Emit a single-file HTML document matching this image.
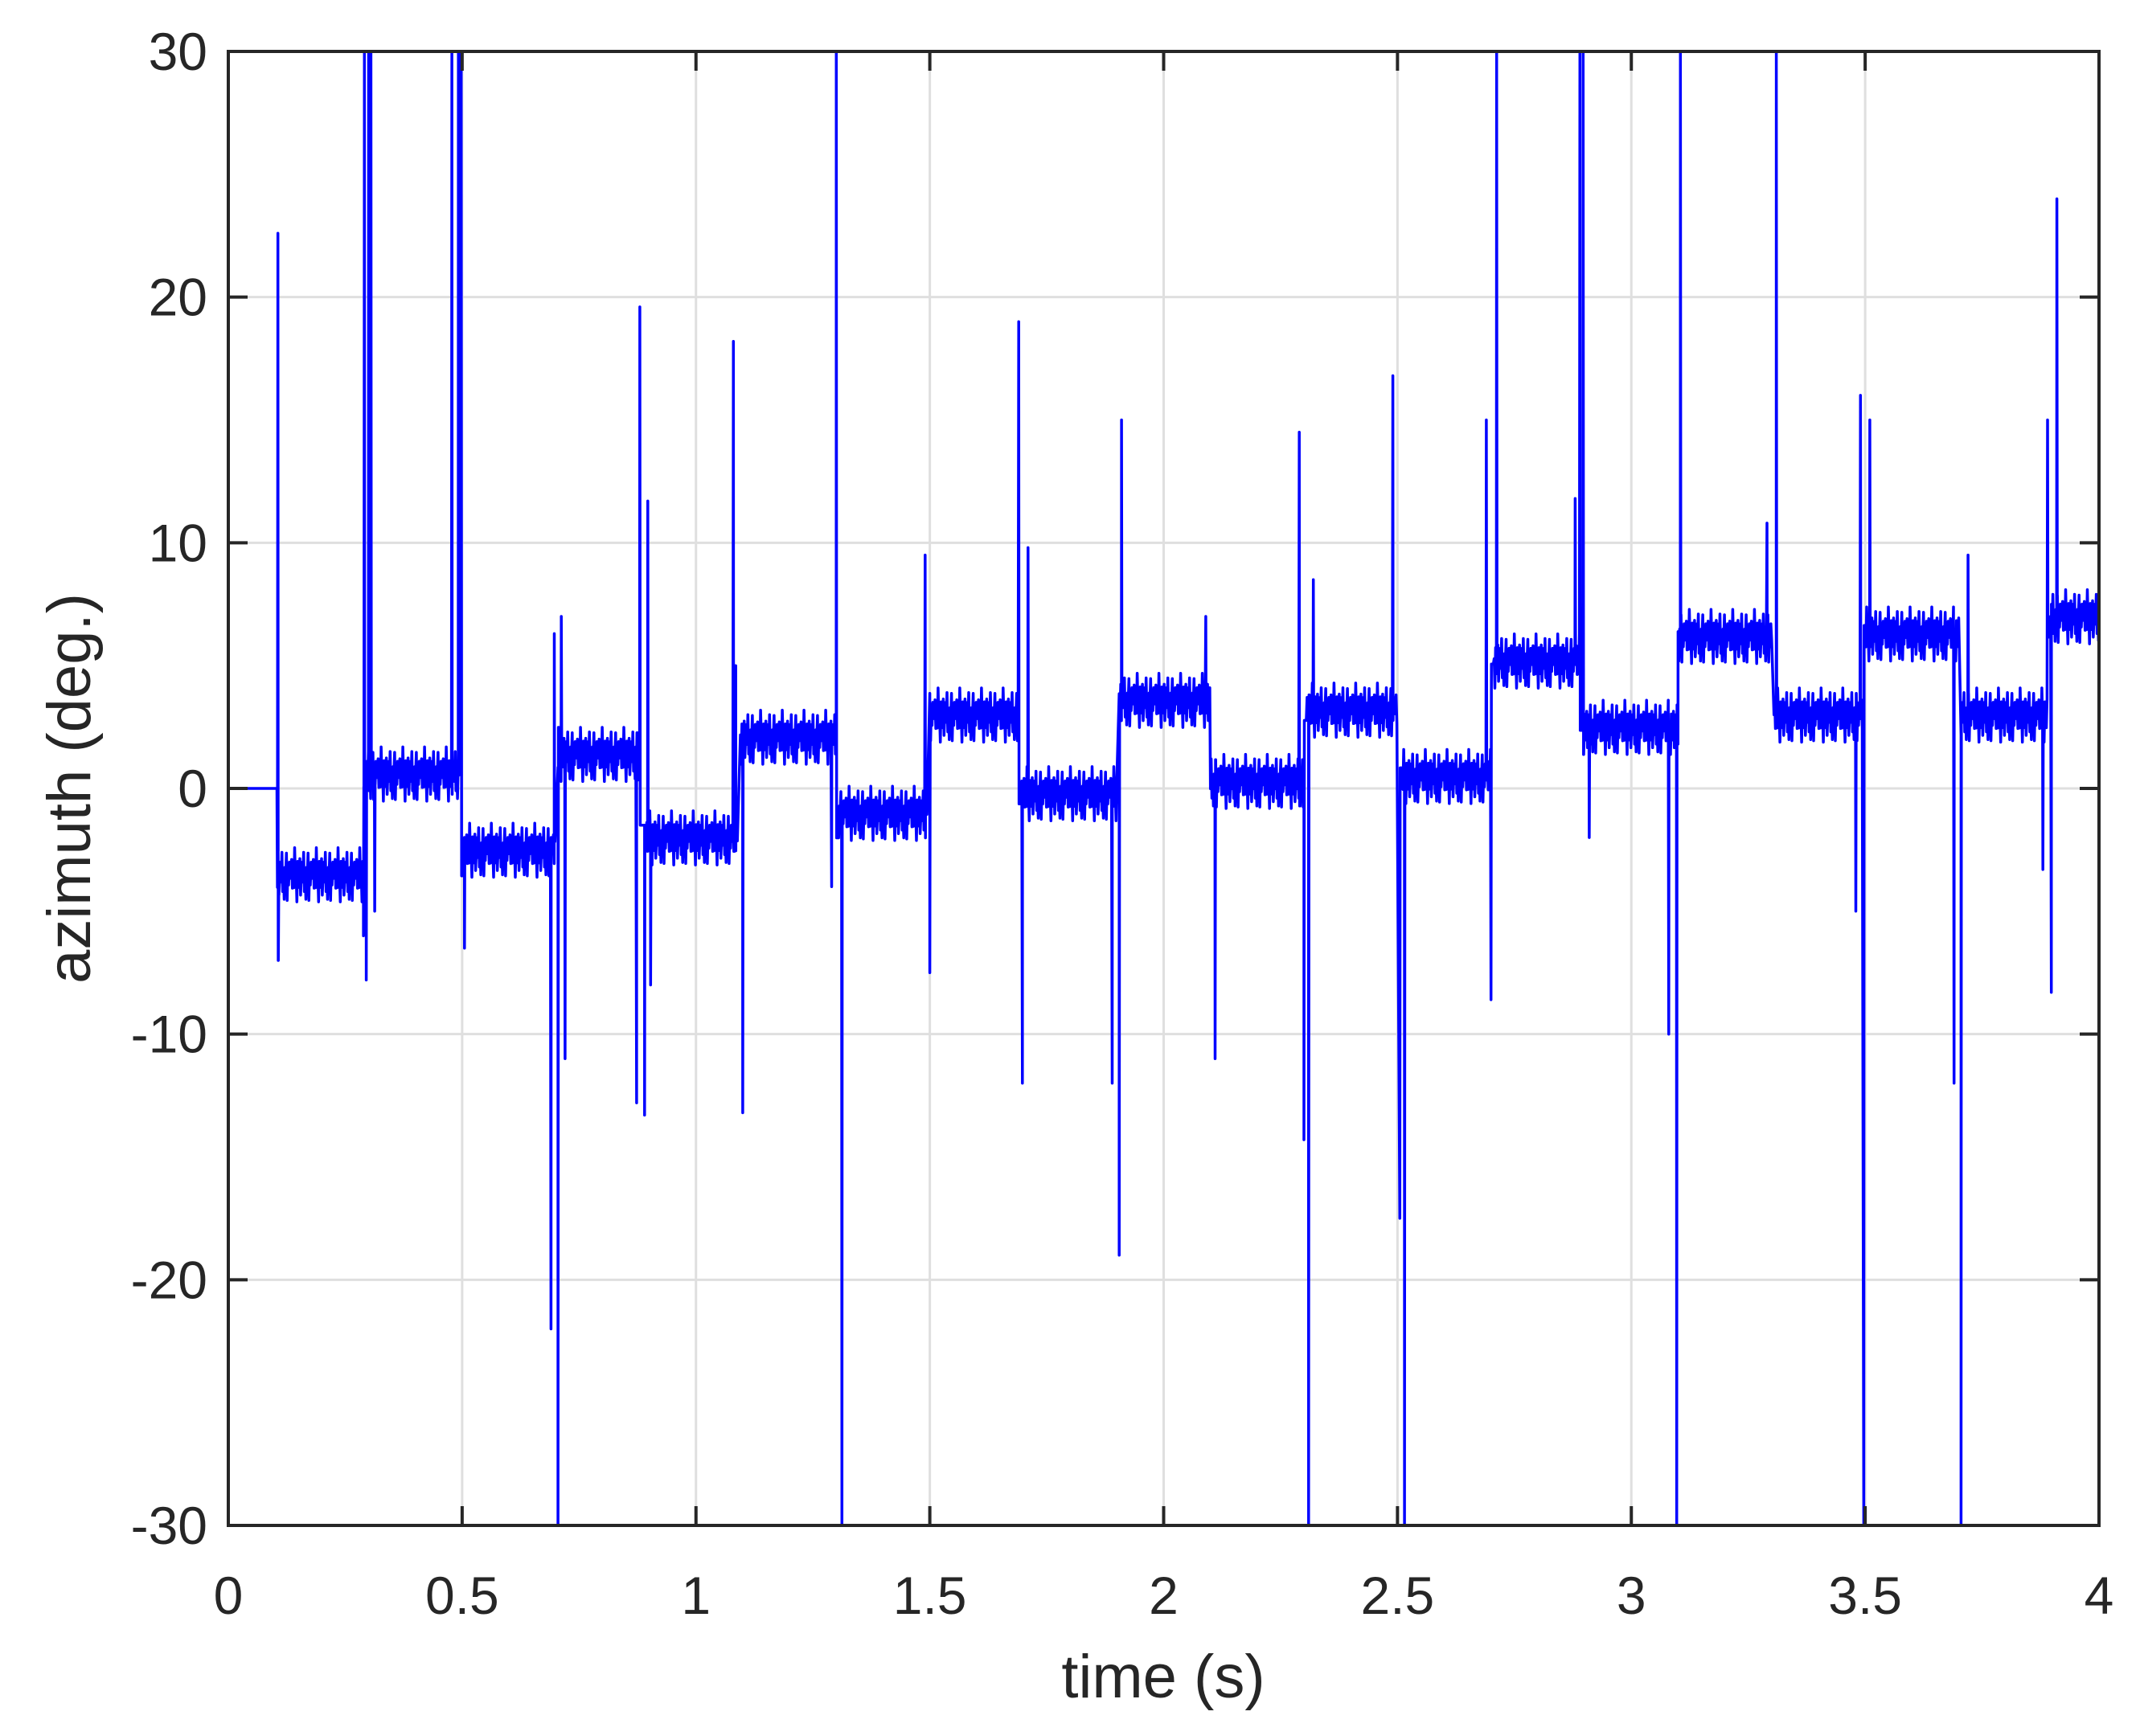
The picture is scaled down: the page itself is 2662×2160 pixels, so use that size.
<!DOCTYPE html>
<html><head><meta charset="utf-8"><style>
html,body{margin:0;padding:0;background:#fff}
svg{display:block;font-family:"Liberation Sans",Arial,sans-serif}
</style></head><body>
<svg id="chart" width="2662" height="2160" viewBox="0 0 2662 2160">
<defs><clipPath id="clip"><rect x="284" y="64" width="2327" height="1834"/></clipPath></defs>
<rect x="0" y="0" width="2662" height="2160" fill="#fff"/>
<g id="grid"></g>
<g id="series" clip-path="url(#clip)"></g>
<g id="axes"></g>
<text x="1447" y="2112" font-size="76" text-anchor="middle" fill="#262626">time (s)</text>
<text transform="translate(112,981) rotate(-90)" font-size="76" text-anchor="middle" fill="#262626">azimuth (deg.)</text>
</svg>
<script>
const xTicks = [0,0.5,1,1.5,2,2.5,3,3.5,4];
const xTickLabels = ["0","0.5","1","1.5","2","2.5","3","3.5","4"];
const yTicks = [-30,-20,-10,0,10,20,30];
const yTickLabels = ["-30","-20","-10","0","10","20","30"];
const segStarts = [0,0.105,0.29,0.50,0.705,0.89,1.095,1.305,1.50,1.695,1.905,2.10,2.305,2.51,2.705,2.895,3.10,3.305,3.50,3.705,3.895];
const segEnds   = [0.105,0.29,0.495,0.70,0.88,1.09,1.30,1.495,1.69,1.90,2.10,2.30,2.50,2.70,2.89,3.10,3.30,3.495,3.70,3.89,4.0];
const segLevels = [0,-3.5,0.6,-2.5,1.4,-2,2.1,-1,3,-0.2,3.6,0.3,3.2,0.5,5.2,2.5,6.2,3,6.3,3,7];
const jitter = [0.3,-0.5,0.8,-0.2,0.1,-0.9,0.6,0.2,-0.4,1.0,-0.7,0.0,0.5,-0.3,0.9,-0.6,0.2,-1.1,0.4,-0.1,0.7,-0.8,0.3,-0.4,0.6,-0.2,0.0,0.8,-0.5];
const spikeTimes = [0.106,0.107,0.289,0.291,0.295,0.300,0.305,0.313,0.478,0.492,0.498,0.505,0.69,0.697,0.705,0.712,0.72,0.873,0.88,0.89,0.897,0.903,1.08,1.085,1.10,1.29,1.30,1.312,1.49,1.50,1.69,1.698,1.71,1.89,1.905,1.91,2.09,2.11,2.29,2.30,2.31,2.32,2.49,2.505,2.515,2.69,2.70,2.712,2.88,2.89,2.897,2.91,3.08,3.097,3.105,3.29,3.31,3.48,3.49,3.497,3.51,3.69,3.705,3.72,3.88,3.89,3.898,3.91];
const spikeValues = [22.6,-7,-6,30,-7.8,30,30,-5,30,30,30,-6.5,-22,6.3,-30,7,-11,-12.8,19.6,-13.3,11.7,-8,18.2,5,-13.2,-4,30,-30,9.5,-7.5,19,-12,9.8,-12,-19,15,7,-11,14.5,-14.3,-30,8.5,16.8,-17.5,-30,15,-8.6,30,11.8,30,30,-2,-10,-30,30,10.8,30,-5,16,-30,15,-12,-30,9.5,-3.3,15,-8.3,24];

const NS="http://www.w3.org/2000/svg";
const L=284,R=2611,T=64,B=1898;
const xs=t=>L+(t-0)/(4-0)*(R-L);
const ys=v=>B-(v+30)/60*(B-T);
function mk(tag,attrs,parent){const e=document.createElementNS(NS,tag);for(const k in attrs)e.setAttribute(k,attrs[k]);parent.appendChild(e);return e;}
const grid=document.getElementById('grid'),axes=document.getElementById('axes'),series=document.getElementById('series');
xTicks.forEach((t,i)=>{
  if(i>0&&i<xTicks.length-1){const g=mk('line',{x1:xs(t),x2:xs(t),y1:T,y2:B,stroke:'#dfdfdf','stroke-width':3},grid);
  
  }
  const a=mk('line',{x1:xs(t),x2:xs(t),y1:B,y2:B-24,stroke:'#262626','stroke-width':4},axes);
  
  
  const b=mk('line',{x1:xs(t),x2:xs(t),y1:T,y2:T+24,stroke:'#262626','stroke-width':4},axes);
  
  
  const tx=mk('text',{x:xs(t),y:2008,'font-size':66,'text-anchor':'middle',fill:'#262626'},axes);
  tx.textContent=xTickLabels[i];
  
  
});
yTicks.forEach((v,i)=>{
  if(i>0&&i<yTicks.length-1){const g=mk('line',{x1:L,x2:R,y1:ys(v),y2:ys(v),stroke:'#dfdfdf','stroke-width':3},grid);
  
  }
  const a=mk('line',{x1:L,x2:L+24,y1:ys(v),y2:ys(v),stroke:'#262626','stroke-width':4},axes);
  
  
  const b=mk('line',{x1:R,x2:R-24,y1:ys(v),y2:ys(v),stroke:'#262626','stroke-width':4},axes);
  
  
  const tx=mk('text',{x:258,y:ys(v)+23,'font-size':66,'text-anchor':'end',fill:'#262626'},axes);
  tx.textContent=yTickLabels[i];
  
  
});
const box=mk('rect',{x:L,y:T,width:R-L,height:B-T,fill:'none',stroke:'#262626','stroke-width':4},axes);



let pts=[];
let k=0;
segStarts.forEach((s,i)=>{
  const e=segEnds[i];
  for(let t=s;t<e;t+=0.0016){
    const j=i===0?0:jitter[k%jitter.length]*(1+0.4*jitter[(k*7)%jitter.length]);
    pts.push([t,segLevels[i]+j]);k++;
  }
});
spikeTimes.forEach((t,i)=>{pts.push([t,spikeValues[i]]);pts.push([t+0.0008,null]);});
pts.sort((a,b)=>a[0]-b[0]);
for(let i=0;i<pts.length;i++){if(pts[i][1]===null){pts[i][1]=i+1<pts.length?pts[i+1][1]:pts[i-1][1];}}
const d=pts.map((p,i)=>(i?'L':'M')+xs(p[0]).toFixed(1)+' '+ys(p[1]).toFixed(1)).join('');
const path=mk('path',{d:d,fill:'none',stroke:'#0000ff','stroke-width':3.5,'stroke-linejoin':'round'},series);


</script>
</body></html>
